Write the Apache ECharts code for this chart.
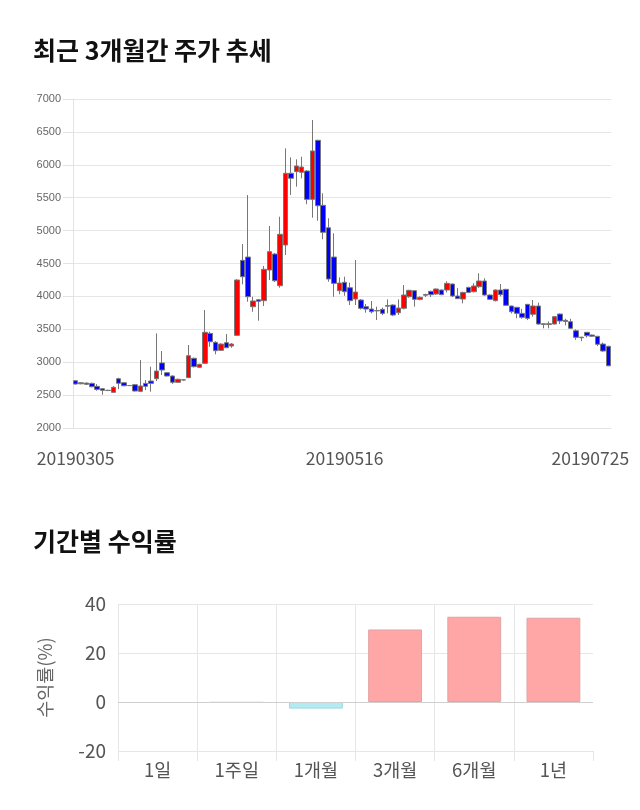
<!DOCTYPE html>
<html>
<head>
<meta charset="utf-8">
<script src="https://cdn.jsdelivr.net/npm/echarts@6/dist/echarts.min.js"></script>
<style>
html,body{margin:0;padding:0;background:#fff;}
#main{width:640px;height:810px;}
</style>
</head>
<body>
<div id="main"></div>
<script>
const dates = ['20190305','20190306','20190307','20190308','20190311','20190312','20190313','20190314','20190315','20190318','20190319','20190320','20190321','20190322','20190325','20190326','20190327','20190328','20190329',
'20190401','20190402','20190403','20190404','20190405','20190408','20190409','20190410','20190411','20190412','20190415','20190416','20190417','20190418','20190419','20190422','20190423','20190424','20190425','20190426','20190429','20190430',
'20190502','20190503','20190507','20190508','20190509','20190510','20190513','20190514','20190515','20190516','20190517','20190520','20190521','20190522','20190523','20190524','20190527','20190528','20190529','20190530','20190531',
'20190603','20190604','20190605','20190607','20190610','20190611','20190612','20190613','20190614','20190617','20190618','20190619','20190620','20190621','20190624','20190625','20190626','20190627','20190628',
'20190701','20190702','20190703','20190704','20190705','20190708','20190709','20190710','20190711','20190712','20190715','20190716','20190717','20190718','20190719','20190722','20190723','20190724','20190725'];

const openP = [2718,2672,2663,2678,2633,2597,2573,2542,2749,2688,2646,2658,2557,2678,2714,2749,2989,2840,2790,2694,
2732,2765,3059,2922,2983,3438,3302,3180,3297,3246,3408,4548,4598,3843,3950,3935,4401,4644,4162,4781,
5871,5896,5886,5906,5475,6372,5384,5044,4598,4087,4214,4132,3960,3945,3844,3808,3785,3803,3860,3869,
3752,3819,3995,4087,3955,4028,4077,4036,4097,4097,4188,4006,3960,4137,4071,4148,4234,4021,3935,4097,
4107,3854,3834,3742,3879,3728,3854,3585,3572,3580,3732,3636,3616,3478,3380,3454,3413,3393,3276,3241];
const closeP = [2668,2688,2683,2627,2587,2572,2570,2618,2679,2642,2644,2562,2638,2633,2678,2866,2881,2790,2694,2740,
2729,3099,2932,2968,3454,3311,3175,3276,3220,3276,4249,4299,3995,3930,3925,4411,4680,4238,4944,5871,
5795,5982,5966,5475,6210,5378,4974,4264,4198,4203,4071,3935,4066,3819,3808,3767,3780,3742,3852,3717,
3823,4021,4092,3955,3986,4018,4026,4112,4026,4198,4006,3966,4061,4061,4158,4234,4021,3955,4097,4026,
3864,3767,3742,3682,3667,3854,3580,3572,3585,3692,3626,3620,3515,3378,3372,3402,3395,3272,3170,2945];
const lowP = [2660,2665,2655,2620,2566,2505,2560,2537,2590,2635,2638,2555,2552,2577,2552,2714,2805,2785,2670,2690,
2720,2760,2920,2915,2980,3235,3120,3175,3215,3220,3400,4183,3919,3767,3630,3854,4249,4220,4132,4629,
5541,5667,5795,5400,5196,5150,4868,4223,3995,4031,4010,3869,3869,3800,3752,3742,3641,3715,3742,3700,
3717,3803,3980,3844,3940,3990,3990,4025,4020,4060,3990,3960,3894,4050,4060,4130,4010,3945,3925,4000,
3855,3740,3667,3660,3640,3692,3570,3515,3515,3575,3580,3560,3505,3340,3320,3375,3385,3245,3160,2940];
const highP = [2725,2695,2690,2690,2668,2605,2580,2638,2764,2695,2652,2670,3033,2729,2932,3438,3170,2850,2800,2750,
2740,3261,3070,2975,3793,3463,3320,3285,3428,3290,4260,4796,5541,3995,3960,4462,5070,4660,5211,6250,
6113,6083,6123,5920,6681,6380,5567,5187,4959,4290,4300,4208,4553,3960,3884,3930,3844,3830,3955,3880,
3955,4173,4100,4095,4000,4040,4085,4120,4105,4230,4195,4130,4070,4145,4200,4351,4275,4030,4105,4188,
4115,3860,3840,3810,3885,3945,3905,3590,3620,3700,3740,3660,3660,3500,3385,3460,3420,3400,3300,3250];

const priceTicks = [2000,7000,500];
const periods = ['1일','1주일','1개월','3개월','6개월','1년'];
const returns = [0,-0.3,-2.7,29.6,34.8,34.4];
const returnTicks = [-20,40,20];

const FONT = 'Noto Sans CJK KR';
const candleData = openP.map((o,i)=>[o, closeP[i], lowP[i], highP[i]]);
const lastIdx = dates.length - 1;

const chart = echarts.init(document.getElementById('main'), null, {renderer:'canvas'});
chart.setOption({
  animation:false,
  backgroundColor:'#fff',
  textStyle:{fontFamily:FONT},
  title:[
    {text:'최근 3개월간 주가 추세', left:28, top:33, textStyle:{fontFamily:FONT, fontSize:25, fontWeight:'bold', color:'#111'}},
    {text:'기간별 수익률', left:28, top:524, textStyle:{fontFamily:FONT, fontSize:25, fontWeight:'bold', color:'#111'}}
  ],
  grid:[
    {left:73, right:29, top:99, bottom:382},
    {left:118, right:47, top:604, bottom:59}
  ],
  xAxis:[
    {type:'category', gridIndex:0, data:dates, boundaryGap:true,
     axisLine:{show:true, lineStyle:{color:'#e3e3e3'}},
     axisTick:{show:false},
     splitLine:{show:false},
     axisLabel:{
       interval:(i)=> i===0 || i===50 || i===lastIdx,
       fontFamily:FONT, fontSize:17.5, color:'#555', margin:22,
       formatter:(v,i)=> i===lastIdx ? '{r|'+v+'}' : v,
       rich:{r:{fontFamily:FONT, fontSize:17.5, color:'#555', padding:[0,36,0,0]}}
     }},
    {type:'category', gridIndex:1, data:periods, boundaryGap:true,
     axisLine:{show:false, onZero:false},
     axisTick:{show:true, length:10, lineStyle:{color:'#e6e6e6'}},
     splitLine:{show:true, showMaxLine:false, lineStyle:{color:'#e6e6e6'}},
     axisLabel:{fontFamily:FONT, fontSize:18.5, color:'#555', margin:10}}
  ],
  yAxis:[
    {type:'value', gridIndex:0, min:priceTicks[0], max:priceTicks[1], interval:priceTicks[2],
     axisLine:{show:true, lineStyle:{color:'#e3e3e3'}},
     axisTick:{show:true, length:10, lineStyle:{color:'#e3e3e3'}},
     splitLine:{lineStyle:{color:'#e6e6e6'}},
     axisLabel:{fontFamily:'Liberation Sans', fontSize:11, color:'#666', margin:12, formatter:(v)=>String(v)}},
    {type:'value', gridIndex:1, min:returnTicks[0], max:returnTicks[1], interval:returnTicks[2],
     name:'수익률(%)', nameLocation:'middle', nameRotate:90, nameGap:64,
     nameTextStyle:{fontFamily:FONT, fontSize:18.5, color:'#666'},
     axisLine:{show:false}, axisTick:{show:false},
     splitLine:{lineStyle:{color:'#e6e6e6'}},
     axisLabel:{fontFamily:FONT, fontSize:19, color:'#555', margin:12, formatter:(v)=>String(v)}}
  ],
  series:[
    {type:'candlestick', xAxisIndex:0, yAxisIndex:0, data:candleData, barWidth:5,
     itemStyle:{color:'#ff0000', color0:'#0000ff', borderColor:'#777', borderColor0:'#777', borderColorDoji:'#333', borderWidth:1}},
    {type:'bar', xAxisIndex:1, yAxisIndex:1, barWidth:'68%',
     data:returns.map(v=>({value:v, itemStyle: v===0 ? {color:'transparent', borderWidth:0} : (v>0 ? {color:'#ffa6a6', borderColor:'#e3a3a3', borderWidth:1} : {color:'#b3ebf2', borderColor:'#a3d6df', borderWidth:1})})),
     markLine:{silent:true, symbol:'none', label:{show:false}, lineStyle:{color:'#cfcfcf', type:'solid', width:1}, data:[{yAxis:0}]}}
  ]
});
</script>
</body>
</html>
